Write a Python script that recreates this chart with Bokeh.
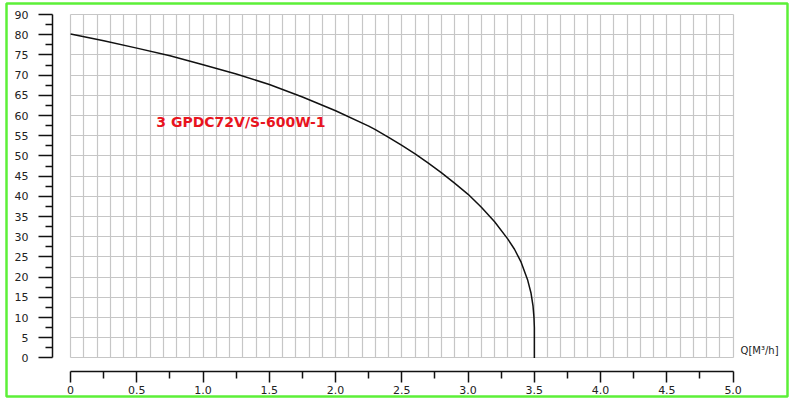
from bokeh.plotting import figure
from bokeh.models import Range1d, FixedTicker, Label, BoxAnnotation
from bokeh.embed import file_html
from bokeh.resources import INLINE

# ---- data ----
flow_q = [0.0, 0.25, 0.5, 0.75, 1.0, 1.25, 1.5, 1.75, 2.0, 2.25, 2.3, 2.4, 2.5,
          2.6, 2.7, 2.8, 2.9, 3.0, 3.1, 3.2, 3.3, 3.35, 3.4, 3.45, 3.475, 3.49,
          3.497, 3.5, 3.5]
head_h = [80.2, 78.5, 76.7, 74.8, 72.6, 70.3, 67.7, 64.6, 61.2, 57.4, 56.5, 54.6, 52.6,
          50.5, 48.2, 45.8, 43.2, 40.5, 37.3, 33.7, 29.4, 26.9, 23.7, 19.2, 16.0, 12.8,
          10.0, 7.5, 0.0]

x_tick_values = [0, 0.5, 1.0, 1.5, 2.0, 2.5, 3.0, 3.5, 4.0, 4.5, 5.0]
x_tick_labels = ["0", "0.5", "1.0", "1.5", "2.0", "2.5", "3.0", "3.5", "4.0", "4.5", "5.0"]
x_minor_values = [0.25, 0.75, 1.25, 1.75, 2.25, 2.75, 3.25, 3.75, 4.25, 4.75]
y_tick_values = [0, 5, 10, 15, 20, 25, 30, 35, 40, 45, 50, 55, 60, 65, 70, 75, 80, 85]
y_tick_labels = ["0", "5", "10", "15", "20", "25", "30", "35", "40", "45", "50",
                 "55", "60", "65", "70", "75", "80", "90"]
y_minor_values = [2.5, 7.5, 12.5, 17.5, 22.5, 27.5, 32.5, 37.5, 42.5, 47.5, 52.5,
                  57.5, 62.5, 67.5, 72.5, 77.5, 82.5]
x_grid_values = [i / 10 for i in range(51)]
y_grid_values = y_tick_values

curve_name = "3 GPDC72V/S-600W-1"
x_unit_label = "Q[M\u00b3/h]"

# the plotting frame fills the whole canvas; axes are placed inside it
p = figure(width=790, height=401, output_backend="svg", toolbar_location=None,
           x_range=Range1d(-0.529, 5.433), y_range=Range1d(-10.795, 88.49),
           min_border_left=0, min_border_right=0, min_border_top=0, min_border_bottom=0,
           background_fill_color="white", border_fill_color="white",
           outline_line_color=None)

# grid
xg = p.xgrid[0]
yg = p.ygrid[0]
xg.ticker = FixedTicker(ticks=x_grid_values)
yg.ticker = FixedTicker(ticks=y_grid_values)
xg.bounds = (-0.01, 5.01)
yg.bounds = (-0.1, 85.1)
for g in (xg, yg):
    g.grid_line_color = "#c6c6c6"
    g.grid_line_width = 1.2
if "cross_bounds" in xg.properties():
    xg.cross_bounds = (0, 85)
    yg.cross_bounds = (0, 5)
else:
    for kw in (dict(top=-0.15), dict(right=-0.006), dict(left=5.006)):
        p.add_layout(BoxAnnotation(fill_color="white", fill_alpha=1.0, line_color=None,
                                   level="underlay", **kw))

# axes
xa = p.xaxis[0]
ya = p.yaxis[0]
xa.fixed_location = -3.417
ya.fixed_location = -0.1374
xa.ticker = FixedTicker(ticks=x_tick_values, minor_ticks=x_minor_values)
ya.ticker = FixedTicker(ticks=y_tick_values, minor_ticks=y_minor_values)
xa.major_label_overrides = dict(zip(x_tick_values, x_tick_labels))
ya.major_label_overrides = dict(zip(y_tick_values, y_tick_labels))
xa.bounds = (0, 5)
ya.bounds = (0, 85)
for a in (xa, ya):
    a.axis_line_color = "#111111"
    a.axis_line_width = 1.5
    a.major_tick_line_color = "#111111"
    a.major_tick_line_width = 1.5
    a.minor_tick_line_color = "#111111"
    a.minor_tick_line_width = 1.5
    a.major_tick_in = 0
    a.minor_tick_in = 0
    a.major_label_text_font = "DejaVu Sans"
    a.major_label_text_font_size = "11px"
    a.major_label_text_color = "#222222"
xa.major_tick_out = 11
xa.minor_tick_out = 7
xa.major_label_standoff = 3
ya.major_tick_out = 14
ya.minor_tick_out = 7
ya.major_label_standoff = 10

# curve
p.line(flow_q, head_h, line_color="#111111", line_width=1.5, line_join="round")

p.add_layout(Label(x=0.647, y=58.5, text=curve_name, text_font="DejaVu Sans",
                   text_font_style="bold", text_font_size="14px", text_color="#e8141e",
                   text_baseline="middle"))
p.add_layout(Label(x=5.056, y=1.83, text=x_unit_label, text_font="DejaVu Sans",
                   text_font_size="10px", text_color="#222222", text_baseline="middle"))

# green frame around the whole picture
p.add_layout(BoxAnnotation(left=6, right=787, top=5, bottom=398,
                           left_units="screen", right_units="screen",
                           top_units="screen", bottom_units="screen",
                           fill_alpha=0, line_color="#5cf038", line_alpha=1.0,
                           line_width=2.5, level="overlay"))

open("out.html", "w").write(file_html(p, INLINE))
